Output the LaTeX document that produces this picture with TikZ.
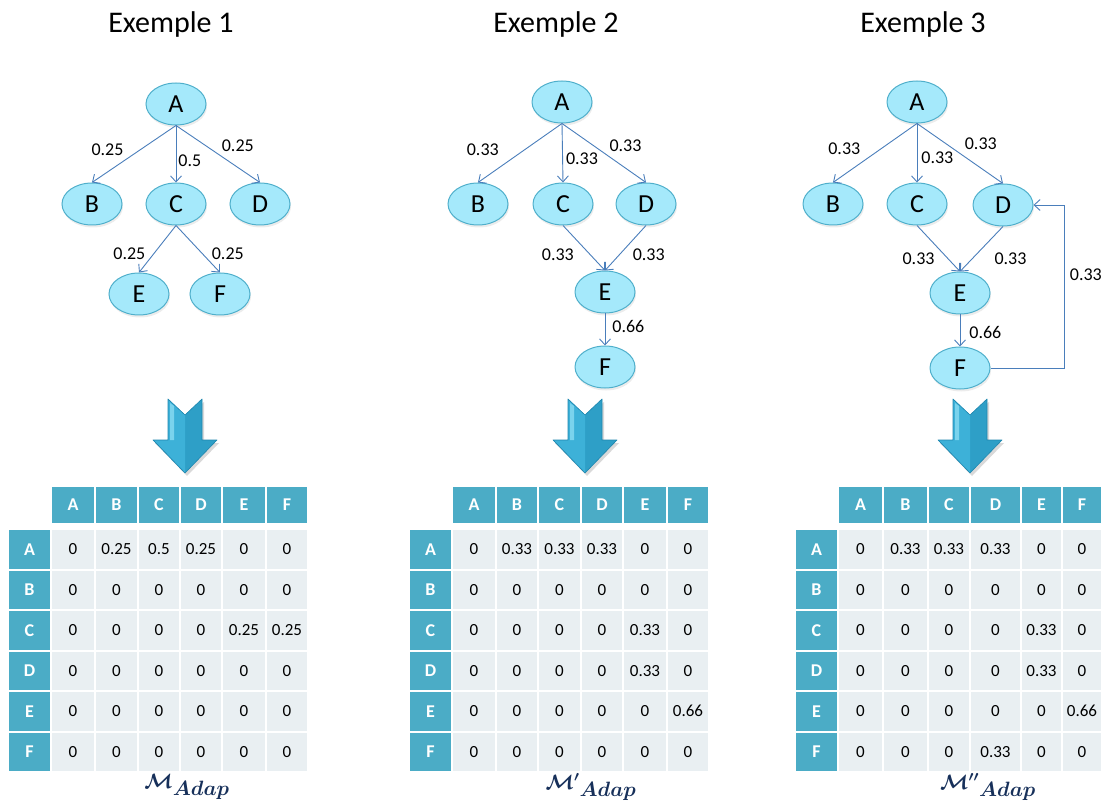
\documentclass[tikz,border=0pt]{standalone}
\usepackage{fontspec}
\setmainfont{Carlito}
\usepackage{amsmath,amssymb}
\usetikzlibrary{shapes.geometric,arrows.meta,shadows}

\definecolor{nodefill}{HTML}{A5E9FB}
\definecolor{nodeline}{HTML}{4FAFCB}
\definecolor{edgeblue}{HTML}{4A7EBB}
\definecolor{hdrfill}{HTML}{4BACC6}
\definecolor{cellfill}{HTML}{E9EFF2}
\definecolor{arrowmid}{HTML}{2E9FC7}
\definecolor{arrowlight}{HTML}{3DB1D8}
\definecolor{arrowhigh}{HTML}{8ADCF3}
\definecolor{arrowedge}{HTML}{1E86AE}
\definecolor{captblue}{HTML}{17305A}

\tikzset{
  vertex/.style={ellipse, draw=nodeline, fill=nodefill, line width=1pt, minimum width=60pt, minimum height=42pt, inner sep=0pt, font=\fontsize{26}{26}\selectfont, drop shadow={opacity=0.15, shadow xshift=1pt, shadow yshift=-2.5pt}},
  link/.style={draw=edgeblue, line width=0.9pt, -{Straight Barb[length=6pt,width=11pt]}},
  weight/.style={font=\fontsize{18}{18}\selectfont, inner sep=1pt},
  headline/.style={font=\fontsize{30}{30}\selectfont, anchor=base},
  hdrcell/.style={fill=hdrfill, draw=white, line width=2pt, inner sep=0pt, outer sep=0pt, minimum height=38pt, text=white, font=\fontsize{18}{18}\selectfont\bfseries},
  rowcell/.style={hdrcell, minimum width=43pt, minimum height=40.5pt},
  bodycell/.style={fill=cellfill, draw=white, line width=2pt},
  bodytxt/.style={font=\fontsize{17}{17}\selectfont, inner sep=0pt},
  capt/.style={text=captblue, font=\fontsize{21}{21}\selectfont\boldmath}
}

\newcommand{\fatarrow}[1]{%
  \fill[arrowmid, drop shadow={opacity=0.3, shadow xshift=2pt, shadow yshift=-3pt}] (#1-17,399) -- (#1,415) -- (#1+17,399) -- (#1+17,440) -- (#1+32,440) -- (#1,473) -- (#1-32,440) -- (#1-17,440) -- cycle;
  \fill[arrowlight] (#1-17,399) -- (#1,415) -- (#1,473) -- (#1-32,440) -- (#1-17,440) -- cycle;
  \fill[arrowhigh, opacity=0.8] (#1-15,403) -- (#1-11,406) -- (#1-11,440) -- (#1-15,440) -- cycle;
  \draw[arrowedge, line width=0.6pt, line join=round] (#1-17,399) -- (#1,415) -- (#1+17,399) -- (#1+17,440) -- (#1+32,440) -- (#1,473) -- (#1-32,440) -- (#1-17,440) -- cycle;
}

\newcommand{\adjtable}[4]{%
  \foreach \col/\xa/\xb [count=\cj] in {#3} {
    \node[hdrcell, minimum width=\xb-\xa] (#1h\cj) at ({(\xa+\xb)/2},505) {\col};
  }
  \foreach \rowname [count=\ri] in {A,B,C,D,E,F} {
    \node[rowcell] (#1r\ri) at (#2+21.5,{549.25+40.5*(\ri-1)}) {\rowname};
  }
  \foreach \rowvals [count=\ri] in {#4} {
    \foreach \val [count=\cj] in \rowvals {
      \draw[bodycell] (#1h\cj.west |- #1r\ri.north) rectangle (#1h\cj.east |- #1r\ri.south);
      \node[bodytxt] at (#1h\cj |- #1r\ri) {\val};
    }
  }
}

\begin{document}
\begin{tikzpicture}[x=1pt, y=-1pt]
    \useasboundingbox (0,0) rectangle (1106,802);

    % Exemple 1
    \node[headline] at (171,33) {Exemple 1};
    \node[vertex] (a1) at (176,104) {A};
    \node[vertex] (b1) at (92,204) {B};
    \node[vertex] (c1) at (176,204) {C};
    \node[vertex] (d1) at (260,204) {D};
    \node[vertex] (e1) at (139,294) {E};
    \node[vertex] (f1) at (220,294) {F};
    \draw[link] (a1.south) -- (b1.north) node[weight, pos=0.43, left=15pt] {0.25};
    \draw[link] (a1.south) -- (c1.north) node[weight, pos=0.62, right=1pt] {0.5};
    \draw[link] (a1.south) -- (d1.north) node[weight, pos=0.35, right=15pt] {0.25};
    \draw[link] (c1.south) -- (e1.north) node[weight, pos=0.6, left=7pt] {0.25};
    \draw[link] (c1.south) -- (f1.north) node[weight, pos=0.6, right=8pt] {0.25};

    % Exemple 2
    \node[headline] at (556,33) {Exemple 2};
    \node[vertex] (a2) at (562,102) {A};
    \node[vertex] (b2) at (478,204) {B};
    \node[vertex] (c2) at (563,204) {C};
    \node[vertex] (d2) at (646,204) {D};
    \node[vertex] (e2) at (605,292) {E};
    \node[vertex] (f2) at (605,367) {F};
    \draw[link] (a2.south) -- (b2.north) node[weight, pos=0.45, left=24pt] {0.33};
    \draw[link] (a2.south) -- (c2.north) node[weight, pos=0.6, right=2pt] {0.33};
    \draw[link] (a2.south) -- (d2.north) node[weight, pos=0.37, right=15pt] {0.33};
    \draw[link] (c2.south) -- (e2.north) node[weight, pos=0.65, left=15pt] {0.33};
    \draw[link] (d2.south) -- (e2.north) node[weight, pos=0.65, right=12pt] {0.33};
    \draw[link] (e2.south) -- (f2.north) node[weight, pos=0.42, right=6pt] {0.66};

    % Exemple 3
    \node[headline] at (923,33) {Exemple 3};
    \node[vertex] (a3) at (917,102) {A};
    \node[vertex] (b3) at (833,204) {B};
    \node[vertex] (c3) at (917,204) {C};
    \node[vertex] (d3) at (1003,205) {D};
    \node[vertex] (e3) at (960,293) {E};
    \node[vertex] (f3) at (960,368) {F};
    \draw[link] (a3.south) -- (b3.north) node[weight, pos=0.42, left=20pt] {0.33};
    \draw[link] (a3.south) -- (c3.north) node[weight, pos=0.58, right=3pt] {0.33};
    \draw[link] (a3.south) -- (d3.north) node[weight, pos=0.33, right=18pt] {0.33};
    \draw[link] (c3.south) -- (e3.north) node[weight, pos=0.72, left=12pt] {0.33};
    \draw[link] (d3.south) -- (e3.north) node[weight, pos=0.72, right=21pt] {0.33};
    \draw[link] (e3.south) -- (f3.north) node[weight, pos=0.55, right=8pt] {0.66};
    \draw[link] (f3.east) -- ++(74,0) |- (d3.east) node[weight, pos=0.285, right=4pt] {0.33};

    \fatarrow{185}
    \fatarrow{585}
    \fatarrow{970}

    \adjtable{t1}{8}{A/51/95, B/95/138, C/138/180, D/180/222, E/222/266, F/266/308}
      {{0,0.25,0.5,0.25,0,0},{0,0,0,0,0,0},{0,0,0,0,0.25,0.25},{0,0,0,0,0,0},{0,0,0,0,0,0},{0,0,0,0,0,0}}
    \adjtable{t2}{409}{A/452/496, B/496/538, C/538/581, D/581/623, E/623/667, F/667/709}
      {{0,0.33,0.33,0.33,0,0},{0,0,0,0,0,0},{0,0,0,0,0.33,0},{0,0,0,0,0.33,0},{0,0,0,0,0,0.66},{0,0,0,0,0,0}}
    \adjtable{t3}{795}{A/838/883, B/883/928, C/928/970, D/970/1021, E/1021/1062, F/1062/1102}
      {{0,0.33,0.33,0.33,0,0},{0,0,0,0,0,0},{0,0,0,0,0.33,0},{0,0,0,0,0.33,0},{0,0,0,0,0,0.66},{0,0,0,0.33,0,0}}

    \node[capt] (m1) at (187,787) {$\mathcal{M}_{\textstyle Adap}$};
    \node[capt] (m2) at (591,787) {$\mathcal{M}'{}_{\textstyle Adap}$};
    \node[capt] (m3) at (988,787) {$\mathcal{M}''{}_{\textstyle Adap}$};
\end{tikzpicture}
\end{document}
